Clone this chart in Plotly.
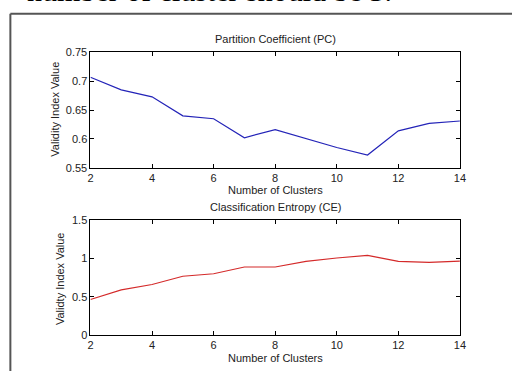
import plotly.graph_objects as go

clusters = [2, 3, 4, 5, 6, 7, 8, 9, 10, 11, 12, 13, 14]
pc_values = [0.707, 0.685, 0.673, 0.640, 0.635, 0.602, 0.616, 0.601, 0.585, 0.572, 0.614, 0.627, 0.631]
ce_values = [0.465, 0.59, 0.66, 0.767, 0.80, 0.888, 0.888, 0.96, 1.005, 1.04, 0.96, 0.947, 0.964]
x_ticks = [2, 4, 6, 8, 10, 12, 14]
pc_ticks = [0.55, 0.6, 0.65, 0.7, 0.75]
pc_tick_text = ["0.55", "0.6", "0.65", "0.7", "0.75"]
ce_ticks = [0, 0.5, 1, 1.5]
ce_tick_text = ["0", "0.5", "1", "1.5"]

W, H = 518, 377
def X(px):
    return px / W
def Y(py):
    return 1 - py / H

FONT = "Liberation Sans, Arial, sans-serif"

fig = go.Figure()
fig.add_trace(go.Scatter(x=clusters, y=pc_values, mode="lines",
                         line=dict(color="#2424b8", width=1.2),
                         xaxis="x", yaxis="y", showlegend=False))
fig.add_trace(go.Scatter(x=clusters, y=ce_values, mode="lines",
                         line=dict(color="#d42a2a", width=1.2),
                         xaxis="x2", yaxis="y2", showlegend=False))

axis_common = dict(showgrid=False, zeroline=False, showline=True, linecolor="black",
                   linewidth=1, mirror="ticks", ticks="inside", ticklen=4,
                   tickcolor="black", tickfont=dict(family=FONT, size=11, color="#222"))

fig.update_layout(
    width=W, height=H,
    margin=dict(l=0, r=0, t=0, b=0),
    paper_bgcolor="white", plot_bgcolor="white",
    xaxis=dict(domain=[X(89), X(465)], range=[2, 14], tickvals=x_ticks,
               anchor="y", **axis_common),
    yaxis=dict(domain=[Y(167), Y(48)], range=[0.55, 0.75], tickvals=pc_ticks,
               ticktext=pc_tick_text, anchor="x", **axis_common),
    xaxis2=dict(domain=[X(89), X(465)], range=[2, 14], tickvals=x_ticks,
                anchor="y2", **axis_common),
    yaxis2=dict(domain=[Y(340), Y(221)], range=[0, 1.5], tickvals=ce_ticks,
                ticktext=ce_tick_text, anchor="x2", **axis_common),
)

def label(text, xp, yp, angle=0, size=11):
    fig.add_annotation(text=text, x=X(xp), y=Y(yp), xref="paper", yref="paper",
                       showarrow=False, textangle=angle,
                       font=dict(family=FONT, size=size, color="#222"),
                       xanchor="center", yanchor="middle")

label("Partition Coefficient (PC)", 277, 34)
label("Number of Clusters", 277, 190)
label("Classification Entropy (CE)", 277, 208)
label("Number of Clusters", 277, 364)
label("Validity Index Value", 52, 107, angle=-90)
label("Validty Index Value", 58, 281, angle=-90)

# cropped heading text at the very top (cut off in the reference as well)
fig.add_annotation(text="number of cluster should be 3.", x=X(22), y=Y(4), xref="paper", yref="paper",
                   showarrow=False, xanchor="left", yanchor="bottom", yshift=1,
                   font=dict(family="Liberation Serif, Times New Roman, serif", size=30, color="black"))

# figure window frame
fig.add_shape(type="line", xref="paper", yref="paper", x0=X(7.5), x1=1, y0=Y(8), y1=Y(8),
              line=dict(color="#555", width=2))
fig.add_shape(type="line", xref="paper", yref="paper", x0=X(7.5), x1=X(7.5), y0=Y(8), y1=0,
              line=dict(color="#555", width=2))

fig.write_html("out.html", config={"displayModeBar": False},
               post_script="document.body.style.margin='0px';document.body.style.overflow='hidden';")
